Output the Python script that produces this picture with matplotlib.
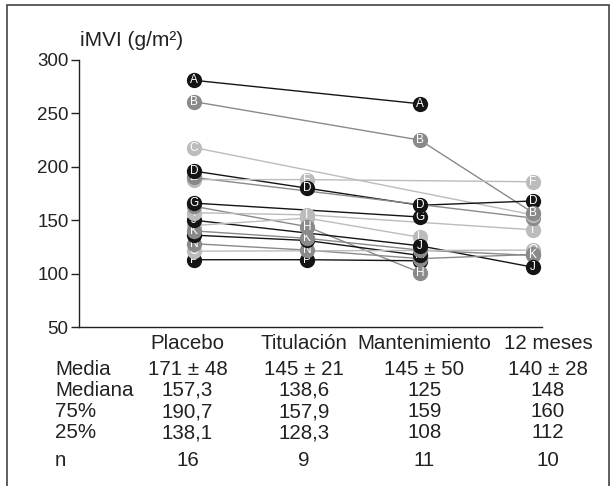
import numpy as np
import matplotlib
matplotlib.use("Agg")
import matplotlib.pyplot as plt
from matplotlib.patches import Rectangle

plt.rcParams['font.family'] = ['Liberation Sans', 'DejaVu Sans']

# etapas y pacientes
etapas = ["Placebo", "Titulación", "Mantenimiento", "12 meses"]
letras = list("ABCDEFGHIJKLMNOP")
nan = np.nan
valores = {
    "A": [281, nan, 259, nan],
    "B": [261, nan, 225, 157],
    "C": [218, nan, nan, 155],
    "D": [196, 180, 164, 168],
    "E": [190, nan, nan, 152],
    "F": [188, 188, nan, 186],
    "G": [166, nan, 153, nan],
    "H": [163, 144, 101, nan],
    "I": [157, 155, nan, 141],
    "J": [150, nan, 126, 106],
    "K": [140, 133, 122, 117],
    "L": [145, 152, 134, nan],
    "M": [136, 131, 117, nan],
    "N": [128, 122, 114, 118],
    "O": [121, nan, nan, 122],
    "P": [113, 113, 112, nan],
}

# tabla de resumen
filas = ["Media", "Mediana", "75%", "25%", "n"]
tabla = [
    ["171 ± 48", "145 ± 21", "145 ± 50", "140 ± 28"],
    ["157,3", "138,6", "125", "148"],
    ["190,7", "157,9", "159", "160"],
    ["138,1", "128,3", "108", "112"],
    ["16", "9", "11", "10"],
]

colores = ["#141414", "#8a8a8a", "#bcbcbc"]  # negro, gris, gris claro

W, H = 616, 486
fig = plt.figure(figsize=(W / 100, H / 100), dpi=100)

def fx(px):
    return px / W

def fy(py):
    return 1 - py / H

ax = fig.add_axes([fx(79), fy(327), fx(542) - fx(79), fy(60) - fy(327)])
ax.set_xlim(-1.018, 3.08)
ax.set_ylim(50, 300)

x = np.arange(len(etapas))
for i, letra in enumerate(letras):
    col = colores[i % 3]
    y = np.array(valores[letra], dtype=float)
    ok = ~np.isnan(y)
    z = 3 - i * 0.01  # las primeras letras quedan encima
    ax.plot(x[ok], y[ok], color=col, lw=1.0, zorder=1)
    ax.plot(x[ok], y[ok], 'o', color=col, ms=11, mec='none', zorder=z)
    for xi, yi in zip(x[ok], y[ok]):
        ax.text(xi, yi, letra, color='white', fontsize=8.5, ha='center',
                va='center', zorder=z + 0.005)

for s in ['top', 'right']:
    ax.spines[s].set_visible(False)
for s in ['left', 'bottom']:
    ax.spines[s].set_linewidth(1.0)
    ax.spines[s].set_color('#222222')
ax.set_yticks([50, 100, 150, 200, 250, 300])
ax.tick_params(axis='y', labelsize=13.5, length=6, width=1.0, pad=1.5,
               colors='#222222')
ax.set_xticks([])

fig.text(fx(80), fy(46), "iMVI (g/m²)", fontsize=15, color='#222222')

# etiquetas de columnas y tabla
col_x = [187.5, 304, 424.5, 548]
for cx, et in zip(col_x, etapas):
    fig.text(fx(cx), fy(349), et, fontsize=14.8, ha='center', color='#222222')

base_y = [375, 396, 417, 438, 466]
for fila, by, vals in zip(filas, base_y, tabla):
    fig.text(fx(55), fy(by), fila, fontsize=14.8, color='#222222')
    for cx, v in zip(col_x, vals):
        fig.text(fx(cx), fy(by), v, fontsize=14.8, ha='center', color='#222222')

# marco
fig.patches.append(Rectangle((fx(7), fy(500)), fx(609) - fx(7), fy(5) - fy(500),
                             transform=fig.transFigure, fill=False,
                             edgecolor='#444444', lw=1.2))

fig.savefig("out.png", dpi=100)
